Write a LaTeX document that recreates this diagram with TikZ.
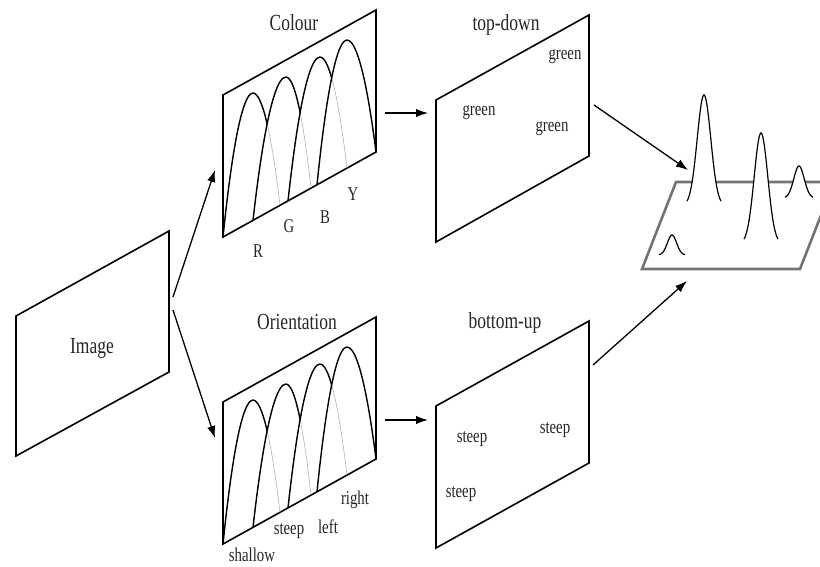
\documentclass[tikz,border=0pt]{standalone}
\usepackage{fontspec}
\setmainfont{Liberation Serif}[FakeStretch=0.76]
\usetikzlibrary{arrows.meta}
\newcommand\bumpset[1]{%
  \begin{scope}[shift={(0,#1)}]
    \coordinate (s1) at (223,237); \coordinate (p1) at (253,93);  \coordinate (e1) at (280,205.3);
    \coordinate (s2) at (253,220.3); \coordinate (p2) at (286,77); \coordinate (e2) at (311,188.1);
    \coordinate (s3) at (288,200.9); \coordinate (p3) at (320,57); \coordinate (e3) at (347,168.1);
    \coordinate (s4) at (317,184.8); \coordinate (p4) at (347,40); \coordinate (e4) at (376,152);
    \draw[bumplight] (s1) parabola bend (p1) (e1);
    \draw[bumplight] (s2) parabola bend (p2) (e2);
    \draw[bumplight] (s3) parabola bend (p3) (e3);
    \begin{scope}
      \clip (p2) parabola (s2) -- (253,300) -- (150,300) -- (150,-30) -- (286,-30) -- cycle;
      \draw[bumpdark] (s1) parabola bend (p1) (e1);
    \end{scope}
    \begin{scope}
      \clip (p3) parabola (s3) -- (288,300) -- (150,300) -- (150,-30) -- (320,-30) -- cycle;
      \draw[bumpdark] (s2) parabola bend (p2) (e2);
    \end{scope}
    \begin{scope}
      \clip (p4) parabola (s4) -- (317,300) -- (150,300) -- (150,-30) -- (347,-30) -- cycle;
      \draw[bumpdark] (s3) parabola bend (p3) (e3);
    \end{scope}
    \draw[bumpdark] (s4) parabola bend (p4) (e4);
  \end{scope}}
\begin{document}
\begin{tikzpicture}[x=1pt,y=-1pt,
  plane/.style={line width=1.6pt, line join=miter},
  big/.style={font=\fontsize{23}{25}\selectfont, inner sep=0pt, text=black!85},
  small/.style={font=\fontsize{19.5}{21}\selectfont, inner sep=0pt, text=black!85},
  arr/.style={line width=1.3pt, -{Latex[length=12pt,width=8.5pt]}},
  bumpdark/.style={line width=1.4pt},
  bumplight/.style={line width=0.6pt, black!30},
  sal/.style={line width=2.6pt, black!55, line join=miter},
  peak/.style={line width=1.2pt, fill=white}]
\useasboundingbox (0,0) rectangle (820,566);

% parallelograms
\draw[plane] (16,316) -- (169,231) -- (169,372) -- (16,456) -- cycle;
\draw[plane] (223,95) -- (376,10) -- (376,152) -- (223,237) -- cycle;
\draw[plane] (223,402) -- (376,317) -- (376,459) -- (223,544) -- cycle;
\draw[plane] (436,100) -- (589,15) -- (589,156) -- (436,242) -- cycle;
\draw[plane] (436,406) -- (589,321) -- (589,463) -- (436,548) -- cycle;

% tuning curves
\bumpset{0}
\bumpset{307}

% saliency map
\begin{scope}
  \clip (0,0) rectangle (820,566);
  \draw[sal] (676,182) -- (834,182) -- (800,269) -- (642,269) -- cycle;
  \draw[peak] plot[domain=-17:17, samples=60, smooth] ({704+\x}, {206-111*exp(-0.5*(\x/6.8)*(\x/6.8))});
  \draw[peak] plot[domain=-17:17, samples=60, smooth] ({761+\x}, {244-111*exp(-0.5*(\x/6.8)*(\x/6.8))});
  \draw[peak] plot[domain=-14:14, samples=50, smooth] ({799+\x}, {198-32*exp(-0.5*(\x/5.2)*(\x/5.2))});
  \draw[peak] plot[domain=-13:13, samples=50, smooth] ({672+\x}, {255-20*exp(-0.5*(\x/4.6)*(\x/4.6))});
\end{scope}

% labels
\node[big] (limg) at (92,348) {Image};
\node[big] (lcol) at (294,23) {Colour};
\node[big] (lori) at (297,322) {Orientation};
\node[big] (ltd) at (506,25) {top-down};
\node[big] (lbu) at (505,323) {bottom-up};

\node[small] (lR) at (258,251) {R};
\node[small] (lG) at (289,226) {G};
\node[small] (lB) at (325,217) {B};
\node[small] (lY) at (353,194) {Y};

\node[small] (lsh) at (252,555) {shallow};
\node[small] (lst) at (289,531) {steep};
\node[small] (lle) at (328,527) {left};
\node[small] (lri) at (355,500) {right};

\node[small] (g1) at (565,57) {green};
\node[small] (g2) at (479,113) {green};
\node[small] (g3) at (552,129) {green};

\node[small] (st1) at (472,439) {steep};
\node[small] (st2) at (555,430) {steep};
\node[small] (st3) at (461,494) {steep};

% arrows
\coordinate (imgOutA) at (173,297);
\coordinate (colIn) at (215,170);
\coordinate (imgOutB) at (173,310);
\coordinate (oriIn) at (215,438);
\coordinate (colOut) at (385,113);
\coordinate (tdIn) at (428,113);
\coordinate (oriOut) at (385,420);
\coordinate (buIn) at (428,420);
\coordinate (tdOut) at (594,105);
\coordinate (salInA) at (688,170);
\coordinate (buOut) at (593,365);
\coordinate (salInB) at (687,281);

\draw[arr] (imgOutA) -- (colIn);
\draw[arr] (imgOutB) -- (oriIn);
\draw[arr] (colOut) -- (tdIn);
\draw[arr] (oriOut) -- (buIn);
\draw[arr] (tdOut) -- (salInA);
\draw[arr] (buOut) -- (salInB);
\end{tikzpicture}
\end{document}
